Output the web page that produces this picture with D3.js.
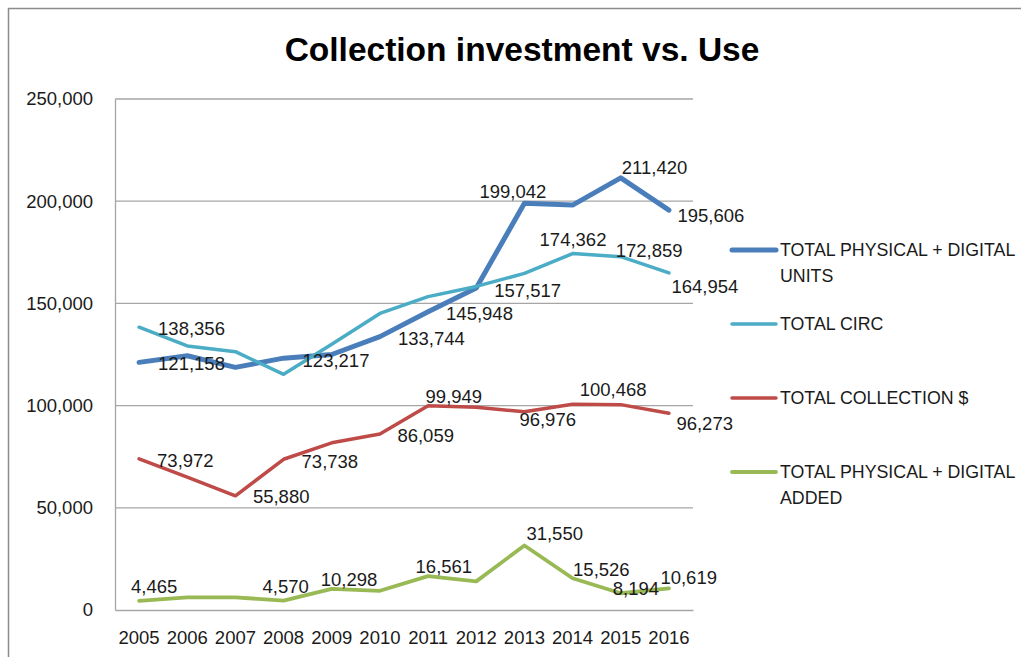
<!DOCTYPE html>
<html>
<head>
<meta charset="utf-8">
<script src="https://cdn.jsdelivr.net/npm/d3@7"></script>
<style>
  html, body { margin: 0; padding: 0; background: #fff; }
  svg { display: block; }
  text { font-family: "Liberation Sans", Arial, sans-serif; fill: #1a1a1a; }
</style>
</head>
<body>
<svg id="chart" width="1021" height="657"></svg>
<script>
// Yearly figures, 2005–2016
const years = ["2005","2006","2007","2008","2009","2010","2011","2012","2013","2014","2015","2016"];

const physicalDigitalUnits = [121158, 124400, 118700, 123217, 125000, 133744, 145948, 157517, 199042, 198100, 211420, 195606];
const totalCirc            = [138356, 129200, 126400, 115300, 130000, 145100, 153300, 158300, 164700, 174362, 172859, 164954];
const totalCollection      = [73972, 65000, 55880, 73738, 81800, 86059, 99949, 99200, 96976, 100700, 100468, 96273];
const physicalDigitalAdded = [4465, 6200, 6200, 4570, 10298, 9400, 16561, 14000, 31550, 15526, 8194, 10619];

const seriesNames = [
  ["TOTAL PHYSICAL + DIGITAL", "UNITS"],
  ["TOTAL CIRC"],
  ["TOTAL COLLECTION $"],
  ["TOTAL PHYSICAL + DIGITAL", "ADDED"]
];

const yTicks = [0, 50000, 100000, 150000, 200000, 250000];

// Which points carry a value label (series index, year index)
const labelledPoints = [
  [0, 0], [0, 3], [0, 5], [0, 6], [0, 7], [0, 8], [0, 10], [0, 11],
  [1, 0], [1, 9], [1, 10], [1, 11],
  [2, 0], [2, 2], [2, 3], [2, 5], [2, 6], [2, 8], [2, 10], [2, 11],
  [3, 0], [3, 3], [3, 4], [3, 6], [3, 8], [3, 9], [3, 10], [3, 11]
];

// ---- layout & styling ----
const seriesData = [physicalDigitalUnits, totalCirc, totalCollection, physicalDigitalAdded];
const colors = ["#4a7ebb", "#4bacc6", "#be4b48", "#98b954"];
const widths = [5, 3.5, 3.5, 3.8];

// label offsets from their point (start-anchored text, vertically centred)
const labelOffsets = {
  "0-0": [19, 1.5], "0-3": [19, 2], "0-5": [18, 2], "0-6": [18, 1.5], "0-7": [18, 2],
  "0-8": [-45, -11.5], "0-10": [1, -10], "0-11": [8.5, 5],
  "1-0": [19, 1], "1-9": [-33, -14.5], "1-10": [-5, -6.5], "1-11": [2.5, 14],
  "2-0": [18, 2], "2-2": [17.5, 1], "2-3": [18, 2], "2-5": [17.5, 1], "2-6": [-2.5, -9],
  "2-8": [-5, 8], "2-10": [-41, -15.5], "2-11": [7.5, 10],
  "3-0": [-8, -14], "3-3": [-21, -14], "3-4": [-11, -9], "3-6": [-12.5, -10],
  "3-8": [2, -12.5], "3-9": [0.5, -9], "3-10": [-8, -5], "3-11": [-8.5, -11]
};

const svg = d3.select("#chart");
const plot = { left: 115, right: 693, top: 99, bottom: 610 };

// outer chart frame
svg.append("rect")
  .attr("x", 8.5).attr("y", 8.5)
  .attr("width", 1040).attr("height", 680)
  .attr("fill", "none").attr("stroke", "#8c8c8c").attr("stroke-width", 1.5);

const x = d3.scaleBand().domain(years).range([plot.left, plot.right]).padding(0);
const xc = d => x(d) + x.bandwidth() / 2;
const y = d3.scaleLinear().domain([0, 250000]).range([plot.bottom, plot.top]);
const fmt = d3.format(",");

// title
svg.append("text")
  .attr("x", 522).attr("y", 61)
  .attr("text-anchor", "middle")
  .style("font-size", "33.5px").style("font-weight", "bold")
  .style("fill", "#000")
  .text("Collection investment vs. Use");

// horizontal gridlines
svg.append("g")
  .selectAll("line")
  .data(yTicks.filter(t => t > 0))
  .join("line")
  .attr("x1", plot.left).attr("x2", plot.right)
  .attr("y1", d => y(d)).attr("y2", d => y(d))
  .attr("stroke", "#a6a6a6").attr("stroke-width", 1.3);

// y axis
const yAxis = svg.append("g")
  .attr("transform", `translate(${plot.left},0)`)
  .call(d3.axisLeft(y).tickValues(yTicks).tickFormat(fmt).tickSize(0).tickPadding(22));
yAxis.select(".domain").attr("stroke", "#a6a6a6").attr("stroke-width", 1.3);
yAxis.selectAll("text").style("font-size", "18.5px").style("font-family", "'Liberation Sans', Arial, sans-serif").attr("fill", "#1a1a1a");

// x axis
const xAxis = svg.append("g")
  .attr("transform", `translate(0,${plot.bottom})`)
  .call(d3.axisBottom(x).tickSize(0).tickPadding(21));
xAxis.select(".domain").attr("stroke", "#a6a6a6").attr("stroke-width", 1.3);
xAxis.selectAll("text").style("font-size", "18.5px").style("font-family", "'Liberation Sans', Arial, sans-serif").attr("fill", "#1a1a1a");

// series lines
const line = d3.line().x((d, i) => xc(years[i])).y(d => y(d));
svg.append("g")
  .selectAll("path")
  .data(seriesData)
  .join("path")
  .attr("d", d => line(d))
  .attr("fill", "none")
  .attr("stroke", (d, i) => colors[i])
  .attr("stroke-width", (d, i) => widths[i])
  .attr("stroke-linejoin", "round")
  .attr("stroke-linecap", "round");

// value labels
svg.append("g")
  .selectAll("text")
  .data(labelledPoints)
  .join("text")
  .attr("x", ([s, i]) => xc(years[i]) + labelOffsets[`${s}-${i}`][0])
  .attr("y", ([s, i]) => y(seriesData[s][i]) + labelOffsets[`${s}-${i}`][1])
  .attr("dominant-baseline", "central")
  .style("font-size", "18.5px")
  .text(([s, i]) => fmt(seriesData[s][i]));

// legend
const legendY = [250, 324, 398, 472];
const legend = svg.append("g");
seriesNames.forEach((name, i) => {
  legend.append("line")
    .attr("x1", 732).attr("x2", 776)
    .attr("y1", legendY[i]).attr("y2", legendY[i])
    .attr("stroke", colors[i]).attr("stroke-width", widths[i])
    .attr("stroke-linecap", "round");
  const t = legend.append("text")
    .attr("x", 780).attr("y", legendY[i])
    .attr("dominant-baseline", "central")
    .style("font-size", "17.8px");
  name.forEach((part, k) => {
    t.append("tspan").attr("x", 780).attr("dy", k === 0 ? 0 : 26).text(part);
  });
});
</script>
</body>
</html>
